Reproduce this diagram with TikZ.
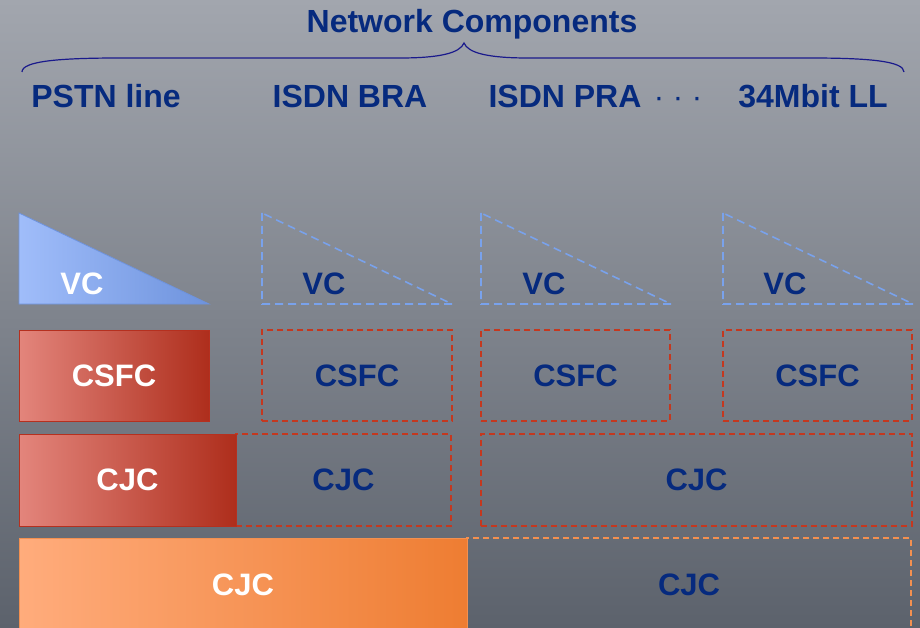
\documentclass[tikz,border=0pt]{standalone}
\usepackage{fontspec}
\setmainfont{Liberation Sans}
\usepackage{tikz}
\usetikzlibrary{positioning}
\definecolor{bgtop}{HTML}{A2A6AE}
\definecolor{bgbot}{HTML}{5C626C}
\definecolor{txtblue}{HTML}{062A7E}
\definecolor{bracecol}{HTML}{1A1A8C}
\definecolor{redL}{HTML}{E3857C}
\definecolor{redM}{HTML}{D35A50}
\definecolor{redR}{HTML}{AE2E1C}
\definecolor{redline}{HTML}{B5301F}
\definecolor{reddash}{HTML}{C4381F}
\definecolor{orL}{HTML}{FFAC7C}
\definecolor{orR}{HTML}{EE7D32}
\definecolor{orline}{HTML}{F39050}
\definecolor{vcL}{HTML}{A0BDFA}
\definecolor{vcR}{HTML}{6E93DD}
\definecolor{bluedashcol}{HTML}{79A2EC}

\tikzset{
  toplabel/.style={text=txtblue, font=\bfseries\fontsize{32}{38}\selectfont, anchor=base, inner sep=0pt},
  boxtext/.style={font=\bfseries\fontsize{31}{37}\selectfont},
  redbox/.style={draw=redline, line width=1pt, left color=redL, middle color=redM, right color=redR,
                 text=white, boxtext, inner sep=0pt, outer sep=0pt, anchor=north west},
  orangebox/.style={draw=orline, line width=1pt, left color=orL, right color=orR,
                 text=white, boxtext, inner sep=0pt, outer sep=0pt, anchor=north west},
  reddashbox/.style={draw=reddash, line width=1.6pt, dash pattern=on 6pt off 4pt,
                 text=txtblue, boxtext, inner sep=0pt, outer sep=0pt, anchor=north west},
  orangedashbox/.style={draw=orline, line width=1.4pt, dash pattern=on 6pt off 4pt,
                 text=txtblue, boxtext, inner sep=0pt, outer sep=0pt, anchor=north west},
  bluedash/.style={draw=bluedashcol, line width=1.6pt, dash pattern=on 8pt off 5pt},
  vctext/.style={boxtext, anchor=base, inner sep=0pt}
}

\begin{document}
\begin{tikzpicture}[x=1pt, y=-1pt]

\useasboundingbox (0,0) rectangle (920,628);
\clip (0,0) rectangle (920,628);

%background
\shade [top color=bgtop, bottom color=bgbot] (0,0) rectangle (920,628);

%title and brace
\node [toplabel] (title) at (472,33) {Network Components};
\draw [bracecol, line width=1.2pt]
      (22,72) .. controls (22,61) and (60,58) .. (120,58)
   -- (400,58) .. controls (440,58) and (460,53) .. (464,43)
   .. controls (468,53) and (488,58) .. (528,58)
   -- (810,58) .. controls (868,58) and (904,61) .. (904,72);

%network components
\node [toplabel] (pstn) at (106,108) {PSTN line};
\node [toplabel] (bra)  at (350,108) {ISDN BRA};
\node [toplabel] (pra)  at (565,108) {ISDN PRA};
\node [toplabel, font=\fontsize{31}{37}\selectfont] (dots) at (678,108) {· · ·};
\node [toplabel] (ll)   at (813,108) {34Mbit LL};

%VC row
\shade [left color=vcL, right color=vcR, draw=vcR, line width=0.8pt]
       (19,213) -- (19,304) -- (209,304) -- cycle;
\node [vctext, text=white] (vcA) at (82,294) {VC};
\draw [bluedash] (262,213) -- (262,304) -- (452,304) -- cycle;
\node [vctext, text=txtblue] (vcB) at (324,294) {VC};
\draw [bluedash] (481,213) -- (481,304) -- (671,304) -- cycle;
\node [vctext, text=txtblue] (vcC) at (544,294) {VC};
\draw [bluedash] (723,213) -- (723,304) -- (913,304) -- cycle;
\node [vctext, text=txtblue] (vcD) at (785,294) {VC};

%CSFC row
\node [redbox, minimum width=190pt, minimum height=91pt] (csfcA) at (19,330) {CSFC};
\node [reddashbox, minimum width=190pt, minimum height=91pt] (csfcB) at (262,330) {CSFC};
\node [reddashbox, minimum width=189pt, minimum height=91pt] (csfcC) at (481,330) {CSFC};
\node [reddashbox, minimum width=189pt, minimum height=91pt] (csfcD) at (723,330) {CSFC};

%CJC row
\node [reddashbox, minimum width=215pt, minimum height=92pt] (cjcB) at (236,434) {CJC};
\node [reddashbox, minimum width=431pt, minimum height=92pt] (cjcC) at (481,434) {CJC};
\node [redbox, minimum width=217pt, minimum height=92pt, left=0pt of cjcB.north west, anchor=north east] (cjcA) {CJC};

%bottom CJC row
\node [orangedashbox, minimum width=444pt, minimum height=94pt] (cjcE) at (467,538) {CJC};
\node [orangebox, minimum width=448pt, minimum height=94pt, left=0pt of cjcE.north west, anchor=north east] (cjcD) {CJC};

\end{tikzpicture}
\end{document}
